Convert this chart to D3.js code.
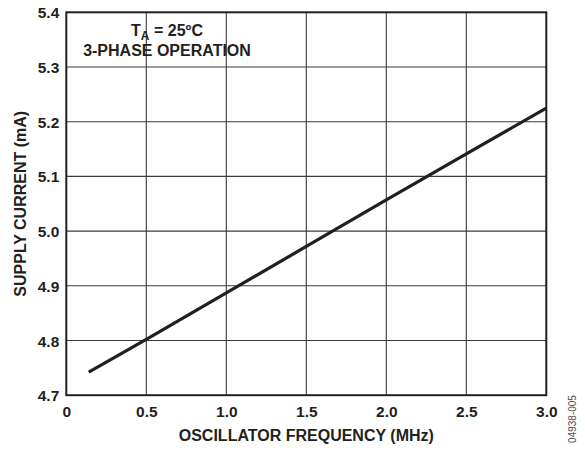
<!DOCTYPE html>
<html>
<head>
<meta charset="utf-8">
<script src="https://cdn.jsdelivr.net/npm/d3@7"></script>
<style>
  html, body { margin: 0; padding: 0; background: #fff; }
  svg { display: block; }
  text { font-family: "Liberation Sans", Arial, Helvetica, sans-serif; fill: #231f20; }
</style>
</head>
<body>
<svg id="chart" width="585" height="450"></svg>
<script>
// Data
const freqMHz = [0.14, 0.5, 1.0, 1.5, 2.0, 2.5, 3.0];
const supplyCurrentMA = [4.742, 4.802, 4.887, 4.972, 5.057, 5.141, 5.225];
const xTicks = [0, 0.5, 1.0, 1.5, 2.0, 2.5, 3.0];
const xTickLabels = ["0", "0.5", "1.0", "1.5", "2.0", "2.5", "3.0"];
const yTicks = [4.7, 4.8, 4.9, 5.0, 5.1, 5.2, 5.3, 5.4];
const yTickLabels = ["4.7", "4.8", "4.9", "5.0", "5.1", "5.2", "5.3", "5.4"];
const xTitle = "OSCILLATOR FREQUENCY (MHz)";
const yTitle = "SUPPLY CURRENT (mA)";
const noteLine2 = "3-PHASE OPERATION";
const figId = "04938-005";

(function () {
const svg = d3.select("#chart");
const pL = 66.3, pR = 546.3, pT = 12.3, pB = 395.2;

const x = d3.scaleLinear().domain([0, 3.0]).range([pL, pR]);
const y = d3.scaleLinear().domain([4.7, 5.4]).range([pB, pT]);

// Grid lines
const grid = svg.append("g");
grid.selectAll("line.v").data(xTicks.slice(1, -1)).enter().append("line")
  .attr("class", "v")
  .attr("x1", d => x(d)).attr("x2", d => x(d))
  .attr("y1", pT).attr("y2", pB)
  .attr("stroke", "#3a3a3a").attr("stroke-width", 1.1);
grid.selectAll("line.h").data(yTicks.slice(1, -1)).enter().append("line")
  .attr("class", "h")
  .attr("x1", pL).attr("x2", pR)
  .attr("y1", d => y(d)).attr("y2", d => y(d))
  .attr("stroke", "#3a3a3a").attr("stroke-width", 1.1);

// Frame
svg.append("rect")
  .attr("x", pL).attr("y", pT)
  .attr("width", pR - pL).attr("height", pB - pT)
  .attr("fill", "none").attr("stroke", "#231f20").attr("stroke-width", 2);

// Axes (labels only, via d3 axes)
const xAxis = d3.axisBottom(x).tickValues(xTicks)
  .tickFormat((d, i) => xTickLabels[i]).tickSize(0).tickPadding(0);
const gx = svg.append("g").attr("transform", `translate(0,${pB})`).call(xAxis);
gx.select(".domain").remove();
gx.selectAll("text")
  .attr("y", 22).attr("dy", 0)
  .style("font-size", "15.5px").style("font-weight", "bold")
  .style("font-family", "'Liberation Sans', Arial, sans-serif")
  .attr("fill", "#231f20");

const yAxis = d3.axisLeft(y).tickValues(yTicks)
  .tickFormat((d, i) => yTickLabels[i]).tickSize(0).tickPadding(0);
const gy = svg.append("g").attr("transform", `translate(${pL},0)`).call(yAxis);
gy.select(".domain").remove();
gy.selectAll("text")
  .attr("x", -7).attr("dy", "0.36em")
  .style("font-size", "15.5px").style("font-weight", "bold")
  .style("font-family", "'Liberation Sans', Arial, sans-serif")
  .attr("fill", "#231f20");

// Data line
const line = d3.line().x((d, i) => x(freqMHz[i])).y(d => y(d));
svg.append("path")
  .datum(supplyCurrentMA)
  .attr("d", line)
  .attr("fill", "none")
  .attr("stroke", "#231f20")
  .attr("stroke-width", 3.2);

// Axis titles
svg.append("text")
  .attr("x", (pL + pR) / 2).attr("y", 440.5)
  .attr("text-anchor", "middle")
  .style("font-size", "16px").style("font-weight", "bold")
  .text(xTitle);

svg.append("text")
  .attr("transform", `translate(26,${(pT + pB) / 2}) rotate(-90)`)
  .attr("text-anchor", "middle")
  .style("font-size", "16px").style("font-weight", "bold")
  .text(yTitle);

// Annotation
const note = svg.append("text")
  .attr("x", 167).attr("y", 35.5)
  .attr("text-anchor", "middle")
  .style("font-size", "16px").style("font-weight", "bold");
note.append("tspan").text("T");
note.append("tspan").attr("dy", 4).style("font-size", "12px").text("A");
note.append("tspan").attr("dy", -4).text(" = 25ºC");

svg.append("text")
  .attr("x", 167).attr("y", 55.5)
  .attr("text-anchor", "middle")
  .style("font-size", "16px").style("font-weight", "bold")
  .text(noteLine2);

// Figure id
svg.append("text")
  .attr("transform", "translate(576,419) rotate(-90)")
  .attr("text-anchor", "middle")
  .style("font-size", "10px")
  .style("fill", "#4d4d4d")
  .text(figId);
})();
</script>
</body>
</html>
